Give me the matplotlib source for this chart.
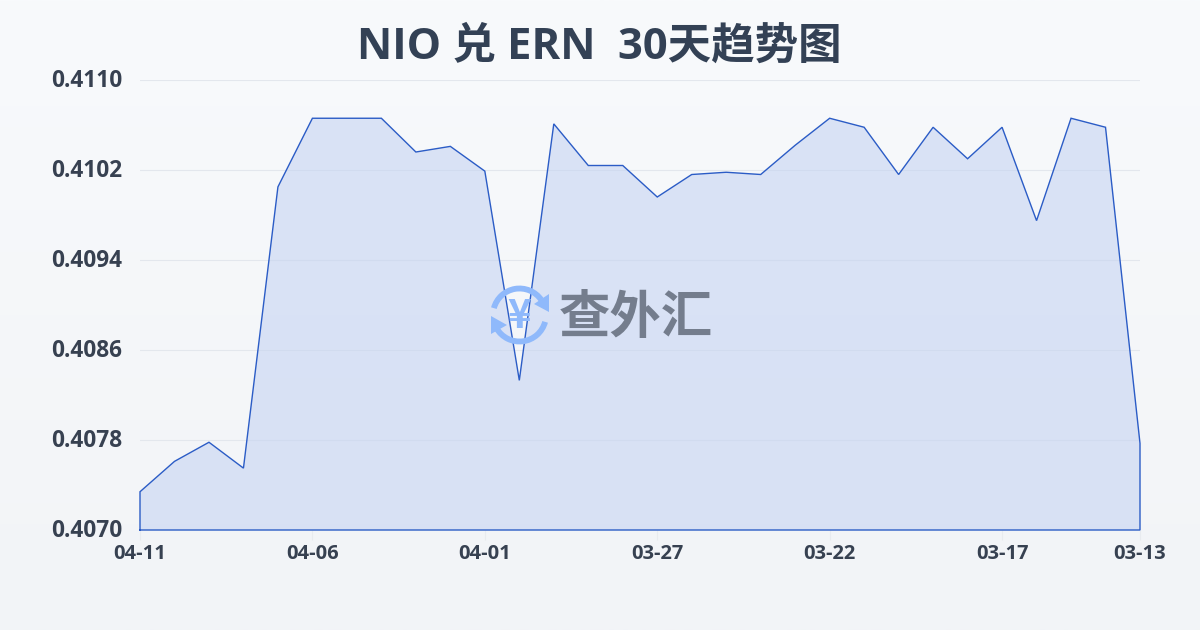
import numpy as np
import matplotlib
matplotlib.use("Agg")
import matplotlib.pyplot as plt
from matplotlib.patches import Arc, Polygon
from matplotlib.transforms import ScaledTranslation

FONT = ['Open Sans', 'Noto Sans CJK SC', 'DejaVu Sans']
plt.rcParams['font.family'] = FONT

title = 'NIO 兑 ERN  30天趋势图'
dates = ['04-11', '04-10', '04-09', '04-08', '04-07', '04-06', '04-05', '04-04', '04-03', '04-02',
         '04-01', '03-31', '03-30', '03-29', '03-28', '03-27', '03-26', '03-25', '03-24', '03-23',
         '03-22', '03-21', '03-20', '03-19', '03-18', '03-17', '03-16', '03-15', '03-14', '03-13']
rates = [0.40734, 0.40761, 0.40778, 0.40755, 0.41005, 0.41066, 0.41066, 0.41066, 0.41036, 0.41041,
         0.41019, 0.40833, 0.41061, 0.41024, 0.41024, 0.40996, 0.41016, 0.41018, 0.41016, 0.41042,
         0.41066, 0.41058, 0.41016, 0.41058, 0.41030, 0.41058, 0.40975, 0.41066, 0.41058, 0.40777]
shown_dates = ['04-11', '04-06', '04-01', '03-27', '03-22', '03-17', '03-13']
y_ticks = [0.4070, 0.4078, 0.4086, 0.4094, 0.4102, 0.4110]

W, H = 1200, 630
fig = plt.figure(figsize=(W / 100, H / 100), dpi=100)

bg = fig.add_axes([0, 0, 1, 1], zorder=0)
bg.imshow(np.linspace(0, 1, 256).reshape(-1, 1), aspect='auto', extent=(0, W, H, 0),
          cmap=matplotlib.colors.LinearSegmentedColormap.from_list('p', ['#f8fafc', '#f2f4f7']))
bg.axis('off')

ax = fig.add_axes([140 / W, 1 - 530 / H, 1000 / W, 450 / H], zorder=1)
ax.patch.set_visible(False)
x = np.arange(len(dates))
ax.yaxis.grid(True, color='#e3e7ed', lw=0.8)
ax.set_axisbelow(True)

verts = [(0, y_ticks[0])] + list(zip(x, rates)) + [(x[-1], y_ticks[0])]
ax.add_patch(Polygon(verts, closed=True, fc='#c3d2f2', alpha=0.56, ec='none', zorder=1.5))
ax.set_xlim(0, len(dates) - 1)
ax.set_ylim(y_ticks[0], y_ticks[-1])
ax.plot([v[0] for v in verts] + [verts[0][0]], [v[1] for v in verts] + [verts[0][1]],
        color='#2b5cc6', lw=1.0, zorder=3, clip_on=False, solid_joinstyle='miter')

for s in ax.spines.values():
    s.set_visible(False)
ax.set_yticks(y_ticks)
ax.set_yticklabels([f'{v:.4f}' for v in y_ticks], fontsize=16.3, fontweight='bold', color='#374151')
ax.tick_params(axis='y', length=0, pad=13)
up = ScaledTranslation(0, 1.5 / 72, fig.dpi_scale_trans)
for lab in ax.get_yticklabels():
    lab.set_transform(lab.get_transform() + up)
ax.set_xticks([dates.index(d) for d in shown_dates])
ax.set_xticklabels(shown_dates, fontsize=14.5, fontweight='bold', color='#374151')
ax.tick_params(axis='x', length=7, width=0.8, color='#e8ebef', pad=3)

fig.text(599 / W, 1 - 47 / H, title, ha='center', va='center', fontsize=31.3, fontweight='bold', color='#334155')

ov = fig.add_axes([0, 0, 1, 1], zorder=2)
ov.set_xlim(0, W)
ov.set_ylim(H, 0)
ov.axis('off')
logo = '#8fb9fb'
cx, cy, r = 519.5, 315, 26.5
ov.add_patch(Arc((cx, cy), 2 * r, 2 * r, theta1=195, theta2=325, color=logo, lw=4.2))
ov.add_patch(Arc((cx, cy), 2 * r, 2 * r, theta1=15, theta2=150, color=logo, lw=4.2))
ov.add_patch(Polygon([(549, 294), (549, 312), (534, 304)], closed=True, fc=logo, ec='none'))
ov.add_patch(Polygon([(491, 316), (491, 334), (507, 325)], closed=True, fc=logo, ec='none'))
ov.text(cx, cy + 1, '¥', fontsize=29, fontweight='bold', color=logo, ha='center', va='center',
        family='Noto Sans CJK SC')
ov.text(636, 318, '查外汇', fontsize=37, fontweight='bold', color='#747d8d', ha='center', va='center',
        family='Noto Sans CJK SC')

fig.savefig('out.png', dpi=100)
